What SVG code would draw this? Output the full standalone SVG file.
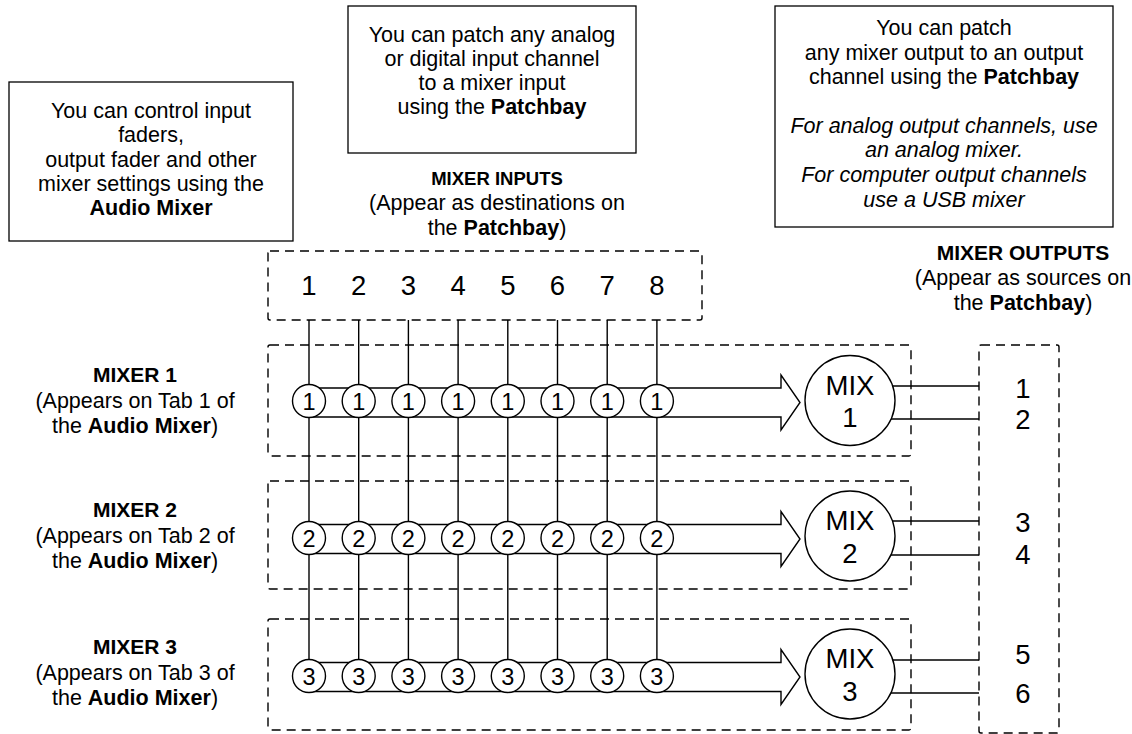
<svg xmlns="http://www.w3.org/2000/svg" width="1132" height="734" viewBox="0 0 1132 734">
<style>
text{font-family:"Liberation Sans",Arial,sans-serif;fill:#000;text-anchor:middle}
.t{font-size:21.5px}
.b{font-weight:bold}
.i{font-style:italic}
.h{font-size:21px;font-weight:bold}
.box{fill:#fff;stroke:#000;stroke-width:1.3}
.dash{fill:none;stroke:#000;stroke-width:1.4;stroke-dasharray:9 6}
.ln{stroke:#000;stroke-width:1.4;fill:none}
.arr{fill:#fff;stroke:#000;stroke-width:1.4;stroke-linejoin:miter}
.c{fill:#fff;stroke:#000;stroke-width:1.4}
.cd{font-size:23.5px}
.num{font-size:27.5px}
.mix{font-size:27.5px}
</style>
<rect width="1132" height="734" fill="#fff"/>
<g id="note-audio-mixer">
<rect class="box" x="9" y="82" width="284" height="159"/>
<text class="t" x="151" y="118">You can control input</text>
<text class="t" x="151" y="142">faders,</text>
<text class="t" x="151" y="166.5">output fader and other</text>
<text class="t" x="151" y="190.5">mixer settings using the</text>
<text class="t b" x="151" y="215">Audio Mixer</text>
</g>
<g id="note-inputs">
<rect class="box" x="348" y="6" width="288" height="147"/>
<text class="t" x="492" y="42">You can patch any analog</text>
<text class="t" x="492" y="66">or digital input channel</text>
<text class="t" x="492" y="90">to a mixer input</text>
<text class="t" x="492" y="114">using the <tspan class="b">Patchbay</tspan></text>
</g>
<g id="note-outputs">
<rect class="box" x="775" y="6" width="338" height="221"/>
<text class="t" x="944" y="35">You can patch</text>
<text class="t" x="944" y="59.5">any mixer output to an output</text>
<text class="t" x="944" y="84">channel using the <tspan class="b">Patchbay</tspan></text>
<text class="t i" x="944" y="133">For analog output channels, use</text>
<text class="t i" x="944" y="157">an analog mixer.</text>
<text class="t i" x="944" y="182">For computer output channels</text>
<text class="t i" x="944" y="206.5">use a USB mixer</text>
</g>
<g id="label-mixer-inputs">
<text x="497" y="185" style="font-size:18.5px;font-weight:bold">MIXER INPUTS</text>
<text class="t" x="497" y="209.5">(Appear as destinations on</text>
<text class="t" x="497" y="235">the <tspan class="b">Patchbay</tspan>)</text>
</g>
<g id="label-mixer-outputs">
<text class="h" x="1023" y="260">MIXER OUTPUTS</text>
<text class="t" x="1023" y="285">(Appear as sources on</text>
<text class="t" x="1023" y="310">the <tspan class="b">Patchbay</tspan>)</text>
</g>
<g id="label-mixer-1">
<text class="h" x="135" y="382">MIXER 1</text>
<text class="t" x="135" y="407.5">(Appears on Tab 1 of</text>
<text class="t" x="135" y="433">the <tspan class="b">Audio Mixer</tspan>)</text>
</g>
<g id="label-mixer-2">
<text class="h" x="135" y="517">MIXER 2</text>
<text class="t" x="135" y="542.5">(Appears on Tab 2 of</text>
<text class="t" x="135" y="568">the <tspan class="b">Audio Mixer</tspan>)</text>
</g>
<g id="label-mixer-3">
<text class="h" x="135" y="654">MIXER 3</text>
<text class="t" x="135" y="679.5">(Appears on Tab 3 of</text>
<text class="t" x="135" y="705">the <tspan class="b">Audio Mixer</tspan>)</text>
</g>
<g id="mixer-inputs">
<rect class="dash" x="268" y="251" width="434" height="69" rx="2"/>
<text class="num" x="309" y="295">1</text>
<text class="num" x="358.7" y="295">2</text>
<text class="num" x="408.4" y="295">3</text>
<text class="num" x="458.1" y="295">4</text>
<text class="num" x="507.8" y="295">5</text>
<text class="num" x="557.5" y="295">6</text>
<text class="num" x="607.2" y="295">7</text>
<text class="num" x="656.9" y="295">8</text>
</g>
<g id="mixer-outputs">
<rect class="dash" x="979" y="345" width="80" height="388" rx="2"/>
<text class="num" x="1023" y="398">1</text>
<text class="num" x="1023" y="429">2</text>
<text class="num" x="1023" y="532">3</text>
<text class="num" x="1023" y="564">4</text>
<text class="num" x="1023" y="664">5</text>
<text class="num" x="1023" y="703">6</text>
</g>
<g id="mixer-1-box"><rect class="dash" x="268" y="345" width="643" height="111" rx="2"/></g>
<g id="mixer-2-box"><rect class="dash" x="268" y="481" width="643" height="108" rx="2"/></g>
<g id="mixer-3-box"><rect class="dash" x="268" y="619" width="643" height="111" rx="2"/></g>
<g id="connectors">
<path class="ln" d="M309 320V676M358.7 320V676M408.4 320V676M458.1 320V676M507.8 320V676M557.5 320V676M607.2 320V676M656.9 320V676"/>
<path class="arr" d="M309 388H781V375L800 402.5L781 430V417H309Z"/>
<path class="arr" d="M309 524.5H781V511.5L800 539L781 566.5V553.5H309Z"/>
<path class="arr" d="M309 662.5H781V649.5L800 677L781 704.5V691.5H309Z"/>
<path class="ln" d="M891 386H979M891 419H979M891 521H979M891 555H979M891 660H979M891 693H979"/>
</g>
<g id="mixer-1-channels">
<circle class="c" cx="309" cy="401" r="16.5"/><circle class="c" cx="358.7" cy="401" r="16.5"/><circle class="c" cx="408.4" cy="401" r="16.5"/><circle class="c" cx="458.1" cy="401" r="16.5"/><circle class="c" cx="507.8" cy="401" r="16.5"/><circle class="c" cx="557.5" cy="401" r="16.5"/><circle class="c" cx="607.2" cy="401" r="16.5"/><circle class="c" cx="656.9" cy="401" r="16.5"/>
<text class="cd" x="309" y="409.5">1</text><text class="cd" x="358.7" y="409.5">1</text><text class="cd" x="408.4" y="409.5">1</text><text class="cd" x="458.1" y="409.5">1</text><text class="cd" x="507.8" y="409.5">1</text><text class="cd" x="557.5" y="409.5">1</text><text class="cd" x="607.2" y="409.5">1</text><text class="cd" x="656.9" y="409.5">1</text>
</g>
<g id="mixer-2-channels">
<circle class="c" cx="309" cy="538" r="16.5"/><circle class="c" cx="358.7" cy="538" r="16.5"/><circle class="c" cx="408.4" cy="538" r="16.5"/><circle class="c" cx="458.1" cy="538" r="16.5"/><circle class="c" cx="507.8" cy="538" r="16.5"/><circle class="c" cx="557.5" cy="538" r="16.5"/><circle class="c" cx="607.2" cy="538" r="16.5"/><circle class="c" cx="656.9" cy="538" r="16.5"/>
<text class="cd" x="309" y="546.5">2</text><text class="cd" x="358.7" y="546.5">2</text><text class="cd" x="408.4" y="546.5">2</text><text class="cd" x="458.1" y="546.5">2</text><text class="cd" x="507.8" y="546.5">2</text><text class="cd" x="557.5" y="546.5">2</text><text class="cd" x="607.2" y="546.5">2</text><text class="cd" x="656.9" y="546.5">2</text>
</g>
<g id="mixer-3-channels">
<circle class="c" cx="309" cy="676" r="16.5"/><circle class="c" cx="358.7" cy="676" r="16.5"/><circle class="c" cx="408.4" cy="676" r="16.5"/><circle class="c" cx="458.1" cy="676" r="16.5"/><circle class="c" cx="507.8" cy="676" r="16.5"/><circle class="c" cx="557.5" cy="676" r="16.5"/><circle class="c" cx="607.2" cy="676" r="16.5"/><circle class="c" cx="656.9" cy="676" r="16.5"/>
<text class="cd" x="309" y="684.5">3</text><text class="cd" x="358.7" y="684.5">3</text><text class="cd" x="408.4" y="684.5">3</text><text class="cd" x="458.1" y="684.5">3</text><text class="cd" x="507.8" y="684.5">3</text><text class="cd" x="557.5" y="684.5">3</text><text class="cd" x="607.2" y="684.5">3</text><text class="cd" x="656.9" y="684.5">3</text>
</g>
<g id="mix-1">
<circle class="c" cx="850" cy="400.5" r="45"/>
<text class="mix" x="850" y="394.5">MIX</text>
<text class="mix" x="850" y="427">1</text>
</g>
<g id="mix-2">
<circle class="c" cx="850" cy="536" r="45"/>
<text class="mix" x="850" y="530">MIX</text>
<text class="mix" x="850" y="562.5">2</text>
</g>
<g id="mix-3">
<circle class="c" cx="850" cy="674" r="45"/>
<text class="mix" x="850" y="668">MIX</text>
<text class="mix" x="850" y="700.5">3</text>
</g>
</svg>
